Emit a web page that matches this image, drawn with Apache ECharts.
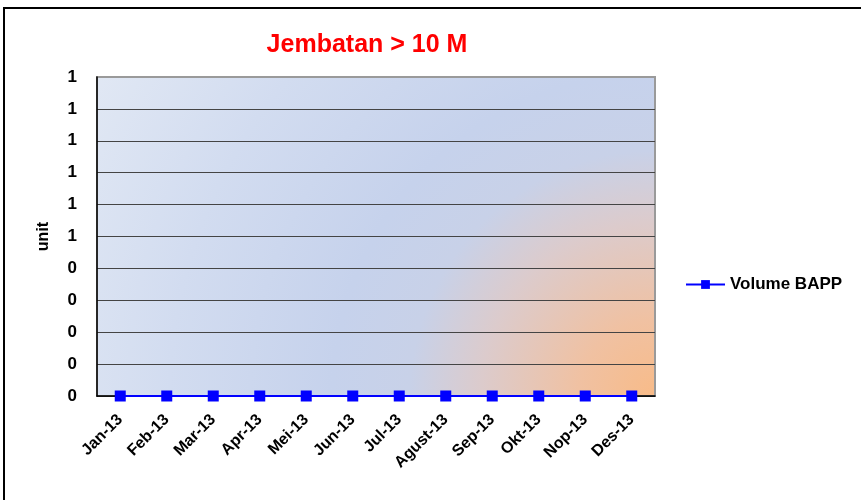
<!DOCTYPE html>
<html>
<head>
<meta charset="utf-8">
<script src="https://cdn.jsdelivr.net/npm/echarts@6/dist/echarts.min.js"></script>
<style>
html,body{margin:0;padding:0;background:#fff;}
#c{width:861px;height:500px;}
</style>
</head>
<body>
<div id="c"></div>
<script>
var categories = ['Jan-13','Feb-13','Mar-13','Apr-13','Mei-13','Jun-13','Jul-13','Agust-13','Sep-13','Okt-13','Nop-13','Des-13'];
var volumeBAPP = [0,0,0,0,0,0,0,0,0,0,0,0];
var yTickLabels = ['0','0','0','0','0','1','1','1','1','1','1'];
var seriesName = 'Volume BAPP';
var titleText = 'Jembatan > 10 M';
var yAxisName = 'unit';

var chart = echarts.init(document.getElementById('c'), null, {renderer:'canvas'});
var FONT = 'Liberation Sans, Arial, sans-serif';
var gridColors = [];
for (var i = 0; i < 10; i++) gridColors.push('#444444');
gridColors.push('#9a9a9a');

chart.setOption({
  animation: false,
  backgroundColor: '#ffffff',
  title: {
    text: titleText,
    left: 362, top: 28, textAlign: 'center',
    textStyle: {color: '#ff0000', fontSize: 25, fontWeight: 'bold', fontFamily: FONT}
  },
  graphic: [{
    type: 'polyline',
    shape: {points: [[4, 500], [4, 8], [861, 8]]},
    style: {stroke: '#000', lineWidth: 2, fill: null},
    silent: true
  }],
  legend: {
    data: [seriesName],
    left: 680, top: 271,
    itemWidth: 39, itemHeight: 11, itemGap: 6,
    textStyle: {color: '#000', fontSize: 17, fontWeight: 'bold', fontFamily: FONT}
  },
  grid: {
    left: 97, right: 206, top: 77, bottom: 104,
    show: true,
    borderColor: '#9a9a9a', borderWidth: 2,
    backgroundColor: {
      type: 'radial', x: 1, y: 1, r: 2.02,
      colorStops: [
        {offset: 0, color: '#f8bb88'},
        {offset: 0.12, color: '#f0c1a2'},
        {offset: 0.27, color: '#dccbcc'},
        {offset: 0.38, color: '#c8d1e8'},
        {offset: 0.5, color: '#c6d2ec'},
        {offset: 0.75, color: '#d2dcf0'},
        {offset: 1, color: '#e1e8f4'}
      ]
    }
  },
  xAxis: {
    type: 'category',
    data: categories,
    boundaryGap: true,
    axisLine: {show: true, lineStyle: {color: '#000', width: 1.5}},
    axisTick: {show: false},
    axisLabel: {
      interval: 0, rotate: 45, margin: 21,
      color: '#000', fontSize: 16, fontWeight: 'bold', fontFamily: FONT
    },
    splitLine: {show: false}
  },
  yAxis: {
    type: 'value',
    min: 0, max: 1, interval: 0.1,
    name: yAxisName,
    nameLocation: 'middle', nameGap: 45, nameRotate: 90,
    nameTextStyle: {color: '#000', fontSize: 16, fontWeight: 'bold', fontFamily: FONT},
    axisLine: {show: true, lineStyle: {color: '#000', width: 1.5}},
    axisTick: {show: false},
    axisLabel: {
      margin: 20,
      color: '#000', fontSize: 17, fontWeight: 'bold', fontFamily: FONT,
      formatter: function (v, i) { return yTickLabels[i]; }
    },
    splitLine: {show: true, lineStyle: {color: gridColors, width: 1}}
  },
  series: [{
    name: seriesName,
    type: 'line',
    data: volumeBAPP,
    symbol: 'rect', symbolSize: 11,
    itemStyle: {color: '#0000ff'},
    lineStyle: {color: '#0000ff', width: 2},
    z: 5
  }]
});
</script>
</body>
</html>
